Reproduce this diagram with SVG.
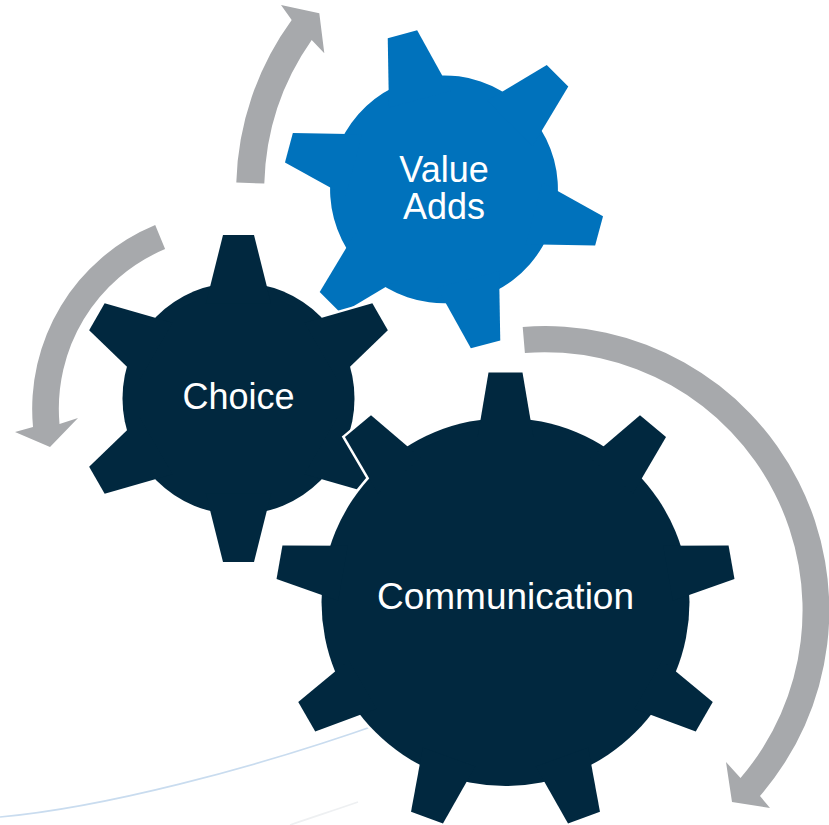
<svg xmlns="http://www.w3.org/2000/svg" xmlns:xlink="http://www.w3.org/1999/xlink" width="829" height="825" viewBox="0 0 829 825">
  <style>
    .arrow { fill: #A7A9AC; }
    .swoosh { fill: none; stroke: #C9DCEF; stroke-width: 1.6; }
    .swoosh-faint { fill: none; stroke: #EEF0F2; stroke-width: 1.6; }
    .halo { fill: #FFFFFF; stroke: #FFFFFF; stroke-width: 5; stroke-linejoin: miter; }
    .navy { fill: #01283F; }
    .blue { fill: #0072BC; }
    .label { fill: #FFFFFF; font-family: "Liberation Sans", Arial, sans-serif; font-size: 36px; text-anchor: middle; }
  </style>
  <defs>
    <!-- six-tooth gear, centred on the origin, one tooth pointing up -->
    <polygon id="tooth6" points="-15.5,-163.5 15.5,-163.5 32.6,-95 -32.6,-95"/>
    <g id="gear6">
      <circle r="116"/>
      <use xlink:href="#tooth6"/>
      <use xlink:href="#tooth6" transform="rotate(60)"/>
      <use xlink:href="#tooth6" transform="rotate(120)"/>
      <use xlink:href="#tooth6" transform="rotate(180)"/>
      <use xlink:href="#tooth6" transform="rotate(240)"/>
      <use xlink:href="#tooth6" transform="rotate(300)"/>
    </g>
    <!-- nine-tooth gear -->
    <polygon id="tooth9" points="-17,-229.5 17,-229.5 27.9,-165 -27.9,-165"/>
    <g id="gear9">
      <circle r="184"/>
      <use xlink:href="#tooth9"/>
      <use xlink:href="#tooth9" transform="rotate(40)"/>
      <use xlink:href="#tooth9" transform="rotate(80)"/>
      <use xlink:href="#tooth9" transform="rotate(120)"/>
      <use xlink:href="#tooth9" transform="rotate(160)"/>
      <use xlink:href="#tooth9" transform="rotate(200)"/>
      <use xlink:href="#tooth9" transform="rotate(240)"/>
      <use xlink:href="#tooth9" transform="rotate(280)"/>
      <use xlink:href="#tooth9" transform="rotate(320)"/>
    </g>
  </defs>

  <rect width="829" height="825" fill="#FFFFFF"/>

  <!-- background swoosh lines -->
  <path class="swoosh" d="M0,817 C100,808 250,770 385,722"/>
  <path class="swoosh-faint" d="M290,825 C310,818 335,810 358,802"/>

  <!-- rotation arrows -->
  <g id="connectors">
    <path class="arrow" d="M236.3,182.4 A290,290 0 0 1 291.7,20 L281,5 L319.3,13.3 L324.3,53.3 L311.7,40 A262,262 0 0 0 264.3,183.6 Z"/>
    <path class="arrow" d="M155.2,225 A199,199 0 0 0 33,427 L15,432 L50,447 L78,418 L59.5,424 A173,173 0 0 1 165.1,249.1 Z"/>
    <path class="arrow" d="M522.7,327 A284,284 0 0 1 760,796 L770,808 L732,802 L726,762 L740.5,778 A258,258 0 0 0 524.9,352.9 Z"/>
  </g>

  <g id="node-value-adds">
    <use xlink:href="#gear6" class="blue" transform="translate(444,189.3) rotate(-15) scale(0.982)"/>
    <text class="label" x="444" y="182">Value</text>
    <text class="label" x="444" y="219">Adds</text>
  </g>

  <g id="node-choice">
    <use xlink:href="#gear6" class="halo" transform="translate(238.5,398.5)"/>
    <use xlink:href="#gear6" class="navy" transform="translate(238.5,398.5)"/>
    <text class="label" x="238.5" y="409">Choice</text>
  </g>

  <g id="node-communication">
    <use xlink:href="#gear9" class="halo" transform="translate(505.5,602)"/>
    <use xlink:href="#gear9" class="navy" transform="translate(505.5,602)"/>
    <text class="label" x="505.5" y="609" style="font-size:37px">Communication</text>
  </g>
</svg>
